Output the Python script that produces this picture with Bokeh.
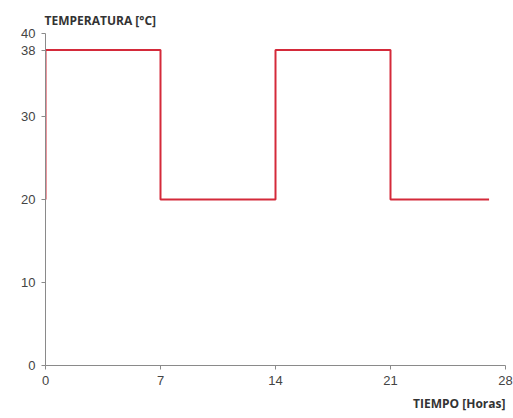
from bokeh.plotting import figure
from bokeh.models import Range1d, FixedTicker, Title
from bokeh.embed import file_html
from bokeh.resources import INLINE

# Data: step profile of temperature vs time
tiempo = [0, 0, 7, 7, 14, 14, 21, 21, 27]
temperatura = [20, 38, 38, 20, 20, 38, 38, 20, 20]
x_ticks = [0, 7, 14, 21, 28]
y_ticks = [0, 10, 20, 30, 38, 40]

p = figure(width=513, height=418, output_backend="svg", toolbar_location=None,
           x_range=Range1d(0, 28), y_range=Range1d(0, 40),
           min_border_left=45, min_border_right=8, min_border_top=33, min_border_bottom=53)
p.outline_line_color = None
p.xgrid.visible = False
p.ygrid.visible = False

p.line(tiempo, temperatura, line_color="#d42a3a", line_width=2)

for ax in (p.xaxis[0], p.yaxis[0]):
    ax.axis_line_color = "#8a8a8a"
    ax.major_tick_line_color = "#8a8a8a"
    ax.major_tick_in = 0
    ax.major_tick_out = 4
    ax.minor_tick_line_color = None
    ax.major_label_text_font = "Liberation Sans"
    ax.major_label_text_font_size = "13px"
    ax.major_label_text_color = "#444444"

p.xaxis[0].ticker = FixedTicker(ticks=x_ticks)
p.yaxis[0].ticker = FixedTicker(ticks=y_ticks)
p.xaxis[0].major_label_standoff = 6
p.yaxis[0].major_label_standoff = 6

p.title.text = "TEMPERATURA [°C]"
p.title.align = "left"
p.title.offset = -1
p.title.standoff = 9
p.title.text_font = "Open Sans"
p.title.text_font_style = "bold"
p.title.text_font_size = "12px"
p.title.text_color = "#333333"

p.add_layout(Title(text="TIEMPO [Horas]", align="right", offset=0,
                   text_font="Open Sans", text_font_style="bold", text_font_size="12px",
                   text_color="#333333"), "below")

open("out.html", "w").write(file_html(p, INLINE))
